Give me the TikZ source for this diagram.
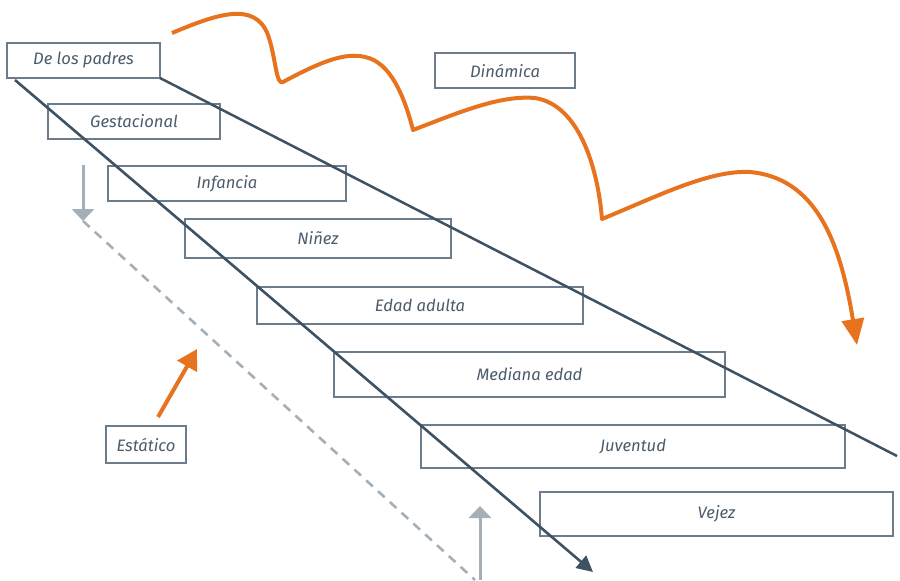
\documentclass[tikz,border=0pt]{standalone}
\usepackage{fontspec}
\setmainfont{Fira Sans}
\usetikzlibrary{arrows.meta}
\definecolor{slate}{HTML}{3E5263}
\definecolor{boxgray}{HTML}{6B7D8C}
\definecolor{txtgray}{HTML}{4B5B6B}
\definecolor{lightgray}{HTML}{A5AFB7}
\definecolor{orng}{HTML}{E8731E}
\begin{document}
\begin{tikzpicture}[x=0.5pt,y=-0.5pt,
	stage/.style={draw=boxgray,line width=0.7pt,anchor=north west,inner sep=0pt,outer sep=0pt,text=txtgray,font=\itshape\fontsize{8.3}{10}\selectfont}]
	\useasboundingbox (0,0) rectangle (900,580);
	%stages
	\node[stage,minimum width=76.5pt,minimum height=17.5pt] (padres) at (7,43) {De los padres};
	\node[stage,minimum width=86pt,minimum height=17.5pt] (gest) at (48,104) {Gestacional};
	\node[stage,minimum width=119pt,minimum height=17.5pt] (infancia) at (108,166) {Infancia};
	\node[stage,minimum width=133pt,minimum height=19.5pt] (ninez) at (185,219) {Niñez};
	\node[stage,minimum width=163pt,minimum height=18.5pt] (adulta) at (257,287) {Edad adulta};
	\node[stage,minimum width=195.5pt,minimum height=22.5pt] (mediana) at (334,352) {Mediana edad};
	\node[stage,minimum width=212pt,minimum height=21.5pt] (juventud) at (421,425) {Juventud};
	\node[stage,minimum width=176.5pt,minimum height=22pt] (vejez) at (540,492) {Vejez};
	%labels
	\node[stage,minimum width=70pt,minimum height=17.5pt] (dinamica) at (435,53) {Dinámica};
	\node[stage,minimum width=40pt,minimum height=18.5pt] (estatico) at (106,426) {Estático};
	%time lines
	\coordinate (top end) at (897,456);
	\coordinate (low start) at (15,80);
	\coordinate (low end) at (593,572);
	\draw[slate,line width=1.25pt] (padres.south east) -- (top end);
	\draw[slate,line width=1.3pt,-{Triangle[width=8pt,length=8pt]}] (low start) -- (low end);
	%static view
	\coordinate (down start) at (83,165);
	\coordinate (down end) at (83,221);
	\coordinate (up start) at (480,580);
	\coordinate (up end) at (480,506);
	\coordinate (dash end) at (475,580);
	\draw[lightgray,line width=1.5pt,-{Triangle[width=11pt,length=6pt]}] (down start) -- (down end);
	\draw[lightgray,line width=1.3pt,dash pattern=on 4.5pt off 3.5pt] (down end) -- (dash end);
	\draw[lightgray,line width=1.5pt,-{Triangle[width=11pt,length=6pt]}] (up start) -- (up end);
	\coordinate (stat tip) at (197,349);
	\draw[orng,line width=2pt,-{Triangle[width=11pt,length=10pt]}] (estatico.north) ++(12,-9) -- (stat tip);
	%dynamic view
	\draw[orng,line width=2pt,line join=round,-{Triangle[width=11pt,length=13pt]}] (172,33)
		.. controls (215,15) and (255,0) .. (268,35)
		.. controls (276,58) and (276,86) .. (283,82)
		.. controls (320,62) and (345,52) .. (365,57)
		.. controls (390,62) and (404,95) .. (413,130)
		.. controls (460,112) and (500,95) .. (535,98)
		.. controls (580,105) and (598,170) .. (602,219)
		.. controls (660,195) and (710,170) .. (750,172)
		.. controls (815,178) and (840,240) .. (857,345);
\end{tikzpicture}
\end{document}
